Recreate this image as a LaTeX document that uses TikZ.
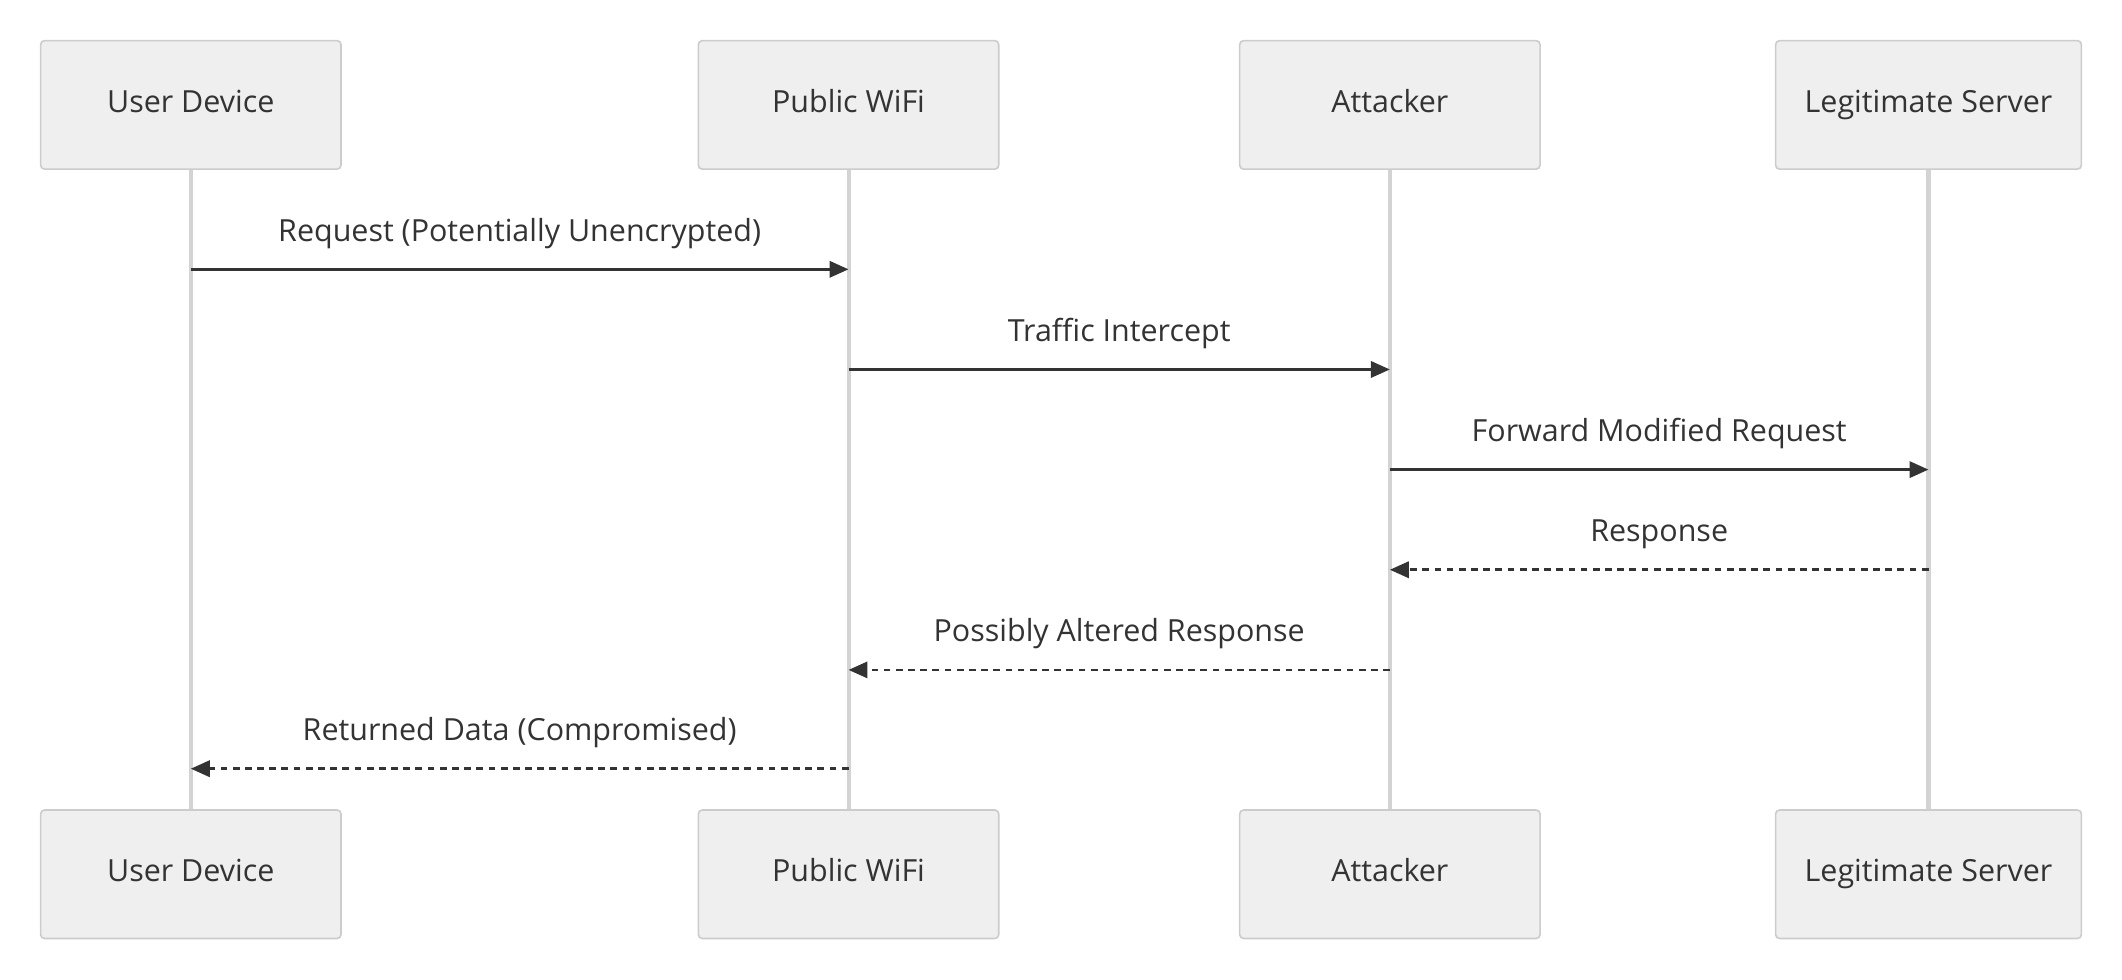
\documentclass[tikz,border=0pt]{standalone}
\usepackage{fontspec}
\setmainfont{Open Sans}
\usetikzlibrary{arrows.meta}
\definecolor{boxfill}{HTML}{EFEFEF}
\definecolor{boxline}{HTML}{CCCCCC}
\definecolor{life}{HTML}{D3D3D3}
\definecolor{ink}{HTML}{333333}
\begin{document}
\begin{tikzpicture}[x=1pt,y=-1pt,
  actor/.style={draw=boxline,fill=boxfill,line width=1.2pt,rounded corners=3pt,minimum width=222pt,minimum height=95pt,text height=16pt,text depth=5pt,font=\fontsize{22.5}{26}\selectfont,text=ink},
  lifeline/.style={draw=life,line width=3pt},
  msg/.style={draw=ink,line width=2pt,-{Triangle[length=14pt,width=12pt]}},
  reply/.style={msg,dash pattern=on 5pt off 4pt},
  lbl/.style={font=\fontsize{22.5}{26}\selectfont,text=ink}]
\useasboundingbox (0,0) rectangle (1568,724);
\foreach \n/\x/\t/\w in {u/141/User Device/222,w/627/Public WiFi/222,a/1027/Attacker/222,s/1425/Legitimate Server/226}{
  \node[actor,minimum width=\w pt] (\n t) at (\x,77.5) {\t};
  \node[actor,minimum width=\w pt] (\n b) at (\x,646) {\t};
  \draw[lifeline] (\n t.south) -- (\n b.north);
}
\foreach \n/\x in {u/141,w/627,a/1027,s/1425}{
  \foreach \i/\y in {1/199,2/273,3/347,4/421,5/495,6/568}{
    \coordinate (\n\i) at (\x,\y);
  }
}
\draw[msg] (u1) -- node[lbl,above=11pt] {Request (Potentially Unencrypted)} (w1);
\draw[msg] (w2) -- node[lbl,above=11pt] {Traffic Intercept} (a2);
\draw[msg] (a3) -- node[lbl,above=11pt] {Forward Modified Request} (s3);
\draw[reply] (s4) -- node[lbl,above=11pt] {Response} (a4);
\draw[reply] (a5) -- node[lbl,above=11pt] {Possibly Altered Response} (w5);
\draw[reply] (w6) -- node[lbl,above=11pt] {Returned Data (Compromised)} (u6);
\end{tikzpicture}
\end{document}
